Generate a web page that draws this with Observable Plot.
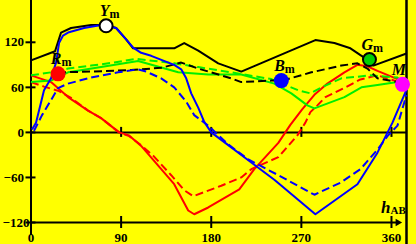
<!DOCTYPE html>
<html><head><meta charset="utf-8">
<script src="https://cdn.jsdelivr.net/npm/d3@7"></script>
<script src="https://cdn.jsdelivr.net/npm/@observablehq/plot@0.6"></script>
<style>
html,body{margin:0;padding:0;background:#ffff00;}
#chart svg{display:block}
</style></head><body><div id="chart"></div>
<script>
// ---- tick values ----
const xTicks = [0, 90, 180, 270, 360];
const yTicks = [120, 60, 0, -60, -120];

// ---- curves (hue angle h_AB, value) ----
const blackSolidH = [0, 24, 30, 40, 60, 75, 85, 95, 102, 143, 153, 167, 187, 210, 284, 303, 319, 329, 336, 342, 375];
const blackSolidV = [96, 108, 133, 139, 143, 143, 139, 124, 112, 112, 119, 109, 92, 81, 123, 119, 112, 103, 97, 89, 105];

const blackDashH = [27, 60, 100, 130, 150, 167, 200, 210, 240, 251, 280, 310, 326, 336, 346, 366, 371];
const blackDashV = [80, 81, 83, 86, 93, 85, 72, 67, 69, 69, 80, 89, 92, 85, 72, 67, 64];

const blueSolidH = [1, 5, 13, 20, 25, 28, 32, 37, 53, 70, 75, 85, 95, 102, 110, 120, 143, 150, 155, 160, 167, 173, 180, 197, 220, 243, 284, 326, 346, 361, 376];
const blueSolidV = [4, 13, 56, 72, 93, 119, 129, 133, 139, 143, 142, 139, 124, 113, 106, 102, 90, 84, 72, 52, 33, 14, 0, -17, -40, -63, -109, -69, -27, 13, 60];

const blueDashH = [3, 11, 20, 27, 37, 60, 87, 107, 115, 130, 143, 155, 163, 177, 197, 217, 247, 283, 309, 329, 346, 356, 366, 375];
const blueDashV = [2, 23, 43, 59, 65, 73, 80, 84, 81, 72, 60, 41, 23, 9, -16, -36, -57, -83, -67, -49, -23, -5, 9, 50];

const redSolidH = [0, 20, 37, 57, 70, 88, 98, 110, 143, 157, 163, 177, 208, 223, 247, 259, 271, 283, 296, 313, 326, 336, 346, 366, 371];
const redSolidV = [76, 67, 47, 29, 19, 0, -4, -18, -69, -104, -109, -100, -76, -49, -14, 10, 31, 50, 65, 80, 90, 88, 82, 71, 66];

const redDashH = [0, 13, 28, 40, 57, 70, 88, 98, 110, 122, 140, 153, 162, 190, 210, 220, 247, 266, 274, 279, 286, 294, 314, 328, 346, 363, 371];
const redDashV = [67, 61, 55, 46, 29, 19, 0, -5, -17, -31, -57, -77, -85, -71, -60, -49, -33, -4, 13, 27, 36, 47, 60, 70, 76, 69, 64];

const greenSolidH = [0, 20, 37, 70, 107, 147, 177, 210, 243, 260, 276, 283, 313, 330, 346, 366, 371];
const greenSolidV = [67, 69, 80, 87, 95, 80, 77, 77, 65, 52, 36, 32, 47, 60, 63, 67, 64];

const greenDashH = [0, 20, 37, 60, 83, 105, 143, 167, 200, 240, 267, 279, 290, 310, 339, 366, 371];
const greenDashV = [76, 80, 85, 89, 93, 98, 92, 87, 80, 71, 56, 52, 60, 72, 76, 73, 66];

// ---- markers ----
const markerName = ["R", "Y", "B", "G", "M"];
const markerH = [27, 75, 250, 338, 371];
const markerV = [78, 142, 69, 97, 64];

// ---- styles ----
const markerFill = {R: "#ff0000", Y: "#ffffff", B: "#0000ff", G: "#00d000", M: "#ff00ff"};
const outlined = new Set(["Y", "G"]);
const RED = "#ff0000", GREEN = "#00ee00", BLUE = "#0000ff", BLACK = "#000000";
const DASH = "8,4";

const pts = (hs, vs) => hs.map((h, i) => ({h, v: vs[i]}));
const markers = markerName.map((name, i) => ({name, h: markerH[i], v: markerV[i]}));
const yMin = d3.min(yTicks);
const fmt = d => d < 0 ? "\u2212" + Math.abs(d) : String(d);

const series = [
  {h: blackSolidH, v: blackSolidV, stroke: BLACK, dash: null},
  {h: redDashH, v: redDashV, stroke: RED, dash: DASH},
  {h: redSolidH, v: redSolidV, stroke: RED, dash: null},
  {h: greenDashH, v: greenDashV, stroke: GREEN, dash: DASH},
  {h: greenSolidH, v: greenSolidV, stroke: GREEN, dash: null},
  {h: blackDashH, v: blackDashV, stroke: BLACK, dash: DASH},
  {h: blueDashH, v: blueDashV, stroke: BLUE, dash: DASH},
  {h: blueSolidH, v: blueSolidV, stroke: BLUE, dash: null}
];

const chart = Plot.plot({
  width: 416,
  height: 244,
  marginLeft: 30,
  marginRight: 10,
  marginTop: 0,
  marginBottom: 0,
  style: {background: "#ffff00", fontFamily: "'Liberation Serif', 'DejaVu Serif', serif", color: "#000"},
  x: {domain: [0, 375], range: [30.5, 406], axis: null},
  y: {domain: [-120, 120], range: [222, 41.8], axis: null},
  color: {type: "identity"},
  marks: [
    // axes lines
    Plot.ruleY([0], {stroke: BLACK, strokeWidth: 2}),
    Plot.ruleY([yMin], {x1: 0, x2: 365, stroke: BLACK, strokeWidth: 2}),
    Plot.dot([yMin], {x: 366.3, y: d => d, symbol: "triangle", rotate: 90, r: 2.8, fill: BLACK}),
    Plot.ruleX([0], {stroke: BLACK, strokeWidth: 2, insetBottom: 9}),
    Plot.ruleX([375], {stroke: BLACK, strokeWidth: 2.5}),
    // ticks
    Plot.ruleY(yTicks, {x1: 0, x2: 0, insetLeft: -5, insetRight: -5, stroke: BLACK, strokeWidth: 2}),
    Plot.ruleX(xTicks.filter(d => d > 0), {y1: 0, y2: 0, insetTop: -5, insetBottom: -5, stroke: BLACK, strokeWidth: 2}),
    Plot.ruleX(xTicks.filter(d => d > 0), {y1: yMin, y2: yMin, insetTop: -6, insetBottom: -6, stroke: BLACK, strokeWidth: 2}),
    // tick labels
    Plot.text(yTicks.filter(d => d !== yMin), {x: 0, y: d => d, text: fmt, textAnchor: "end", dx: -7, fontSize: 13, fontWeight: "bold"}),
    Plot.text([yMin], {x: 0, y: d => d, text: fmt, textAnchor: "start", dx: -28.5, fontSize: 13, fontWeight: "bold"}),
    Plot.text(xTicks, {x: d => d, y: yMin, text: d => String(d), dy: 15, fontSize: 13, fontWeight: "bold"}),
    // curves
    ...series.map(s => Plot.line(pts(s.h, s.v), {
      x: "h", y: "v", stroke: s.stroke, strokeWidth: 2, strokeDasharray: s.dash,
      strokeLinejoin: "round", strokeLinecap: "butt"
    })),
    // markers
    Plot.dot(markers.filter(d => !outlined.has(d.name)), {
      x: "h", y: "v", r: 7.5, fill: d => markerFill[d.name], stroke: "none"
    }),
    Plot.dot(markers.filter(d => outlined.has(d.name)), {
      x: "h", y: "v", r: 6.5, fill: d => markerFill[d.name], stroke: BLACK, strokeWidth: 2
    }),
    Plot.text(markers, {x: "h", y: "v", text: "name", textAnchor: "end", lineAnchor: "bottom",
      dx: 3.5, dy: -9.5, fontSize: 16, fontStyle: "italic", fontWeight: "bold", clip: true}),
    Plot.text(markers, {x: "h", y: "v", text: () => "m", textAnchor: "start", lineAnchor: "bottom",
      dx: 3.5, dy: -7.5, fontSize: 12, fontWeight: "bold", clip: true}),
    // axis title h_AB
    Plot.text(["h"], {frameAnchor: "bottom-right", text: d => d, textAnchor: "end", lineAnchor: "bottom",
      dx: -16, dy: -31.5, fontSize: 17, fontStyle: "italic", fontWeight: "bold"}),
    Plot.text(["AB"], {frameAnchor: "bottom-right", text: d => d, textAnchor: "start", lineAnchor: "bottom",
      dx: -16, dy: -30.5, fontSize: 11, fontWeight: "bold"})
  ]
});
document.getElementById("chart").appendChild(chart);
</script>
</body></html>
